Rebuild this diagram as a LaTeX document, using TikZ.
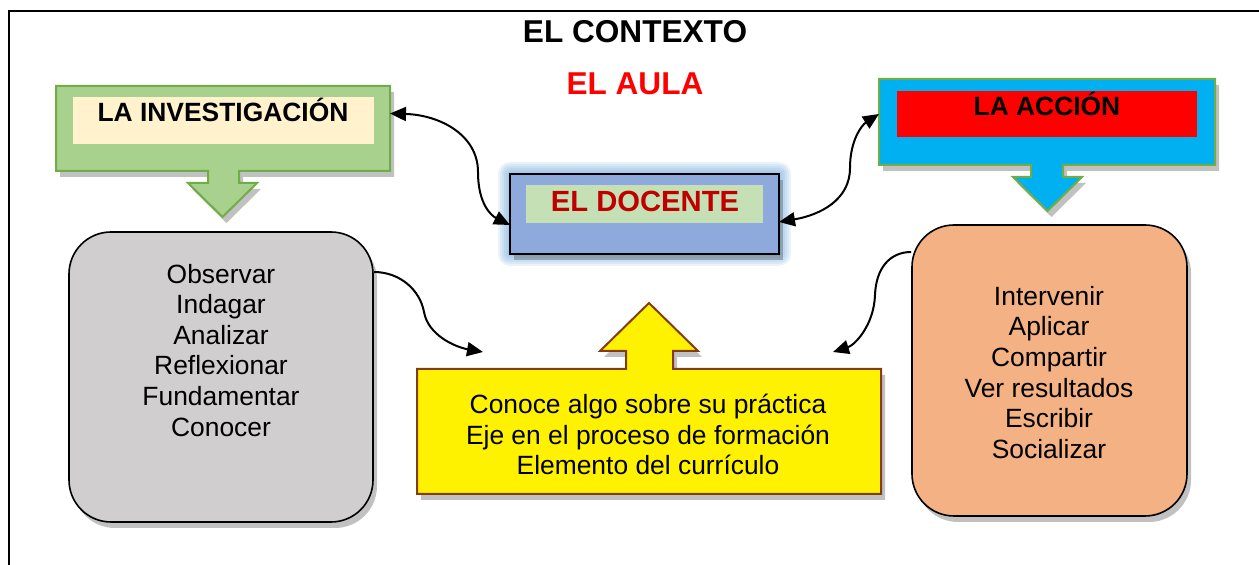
\documentclass[tikz,border=0pt]{standalone}
\usepackage{fontspec}
\setmainfont{Liberation Sans}
\usetikzlibrary{arrows.meta,shadows}

\begin{document}
\begin{tikzpicture}[x=0.5pt,y=-0.5pt,>={Triangle[length=8pt,width=7pt]}]
  % Colors
  \definecolor{invcolor}{HTML}{A9D18E}
  \definecolor{invborder}{HTML}{70AD47}
  \definecolor{creamcolor}{HTML}{FFF2CC}
  \definecolor{acccolor}{HTML}{00B0F0}
  \definecolor{doccolor}{HTML}{8EA9DB}
  \definecolor{docgreen}{HTML}{C5E0B4}
  \definecolor{docred}{HTML}{C00000}
  \definecolor{glowcolor}{HTML}{5B9BD5}
  \definecolor{obscolor}{HTML}{D0CECE}
  \definecolor{actcolor}{HTML}{F4B183}
  \definecolor{yelborder}{HTML}{843C0C}

  % Styles
  \tikzstyle{frame}=[line width=1pt]
  \tikzstyle{box shadow}=[drop shadow={shadow xshift=2pt,shadow yshift=-3pt,opacity=.35,fill=black!70}]
  \tikzstyle{anchor box}=[inner sep=0pt,outer sep=0pt]
  \tikzstyle{title text}=[font=\bfseries\fontsize{15.8}{18}\selectfont,anchor=base]
  \tikzstyle{head text}=[font=\bfseries\fontsize{13.2}{15}\selectfont,anchor=base]
  \tikzstyle{list text}=[font=\fontsize{13.2}{15.3}\selectfont,align=center,anchor=north,inner sep=0pt]
  \tikzstyle{round box}=[box shadow,draw,line width=0.8pt,rounded corners=21pt,inner sep=0pt]
  \tikzstyle{connector}=[line width=1pt]

  \useasboundingbox (0,0) rectangle (1259,565);

  % Frame and titles
  \draw[frame] (9,565) -- (9,11) -- (1259,11);
  \node[title text] (contexto) at (635,43) {EL CONTEXTO};
  \node[title text,red] (aula) at (635,95) {EL AULA};

  % La investigacion
  \node[anchor box,minimum width=167pt,minimum height=42.5pt] (inv) at (223,128.5) {};
  \filldraw[box shadow,fill=invcolor,draw=invborder,line width=1pt]
    (inv.north west) -- (inv.north east) -- (inv.south east) -- (239,171) -- (239,183)
    -- (257,183) -- (222.5,217) -- (188,183) -- (208,183) -- (208,171) -- (inv.south west) -- cycle;
  \node[anchor box,fill=creamcolor,minimum width=150.5pt,minimum height=23.5pt] (invlabel) at (223.5,120.5) {};
  \node[head text] (invtext) at (223,121.5) {LA INVESTIGACIÓN};

  % La accion
  \node[anchor box,minimum width=168pt,minimum height=43pt] (acc) at (1047,122) {};
  \filldraw[box shadow,fill=acccolor,draw=invborder,line width=1pt]
    (acc.north west) -- (acc.north east) -- (acc.south east) -- (1063,165) -- (1063,177)
    -- (1082,177) -- (1047.5,211) -- (1013,177) -- (1031,177) -- (1031,165) -- (acc.south west) -- cycle;
  \node[anchor box,fill=red,minimum width=150pt,minimum height=23pt] (acclabel) at (1047,114) {};
  \node[head text] (acctext) at (1047,116) {LA ACCIÓN};

  % El docente
  \node[anchor box,minimum width=134.5pt,minimum height=40pt] (doc) at (644.5,214) {};
  \foreach \g in {1,...,6}
    \fill[glowcolor,opacity=.12,rounded corners=\g*1pt] ([shift={(-\g*1pt,\g*1pt)}]doc.north west) rectangle ([shift={(\g*1pt,-\g*1pt)}]doc.south east);
  \filldraw[box shadow,fill=doccolor,draw=black,line width=1pt] (doc.north west) rectangle (doc.south east);
  \node[anchor box,fill=docgreen,minimum width=118.5pt,minimum height=19pt] (doclabel) at (644.5,204) {};
  \node[head text,font=\bfseries\fontsize{14.6}{17}\selectfont,text=docred] (doctext) at (645,211.5) {EL DOCENTE};

  % Lists
  \node[round box,fill=obscolor,minimum width=152pt,minimum height=145pt] (obs) at (221,377) {};
  \node[list text] (obstext) at (221,263.5) {Observar\\Indagar\\Analizar\\Reflexionar\\Fundamentar\\Conocer};

  \node[round box,fill=actcolor,minimum width=137.5pt,minimum height=145.5pt] (act) at (1049.5,370.5) {};
  \node[list text] (acttext) at (1049,285.7) {Intervenir\\Aplicar\\Compartir\\Ver resultados\\Escribir\\Socializar};

  % Yellow box
  \node[anchor box,minimum width=232pt,minimum height=62.5pt] (yel) at (649,431.5) {};
  \filldraw[box shadow,fill=yellow,draw=yelborder,line width=1pt]
    (yel.south west) -- (yel.north west) -- (626,369) -- (626,351) -- (600,351) -- (649,303)
    -- (698,351) -- (673,351) -- (673,369) -- (yel.north east) -- (yel.south east) -- cycle;
  \node[list text] (yeltext) at (648,393.7) {Conoce algo sobre su práctica\\Eje en el proceso de formación\\Elemento del currículo};

  % Connectors
  \draw[connector,<->] ([yshift=7.5pt]inv.east) .. controls (440,115) and (478,135) .. (478,172)
    .. controls (478,205) and (492,216) .. ([yshift=-5.5pt]doc.west);
  \draw[connector,<->] ([yshift=-4pt]doc.east) .. controls (820,215) and (850,200) .. (850,168)
    .. controls (850,140) and (862,125) .. ([yshift=4pt]acc.west);

  \coordinate (obsend) at (483,352);
  \draw[connector,->] ([yshift=52.5pt]obs.east) .. controls (400,272) and (420,290) .. (424,312)
    .. controls (428,335) and (455,347) .. (obsend);
  \coordinate (actend) at (833,352);
  \draw[connector,->] ([yshift=59.25pt]act.west) .. controls (890,252) and (876,268) .. (875,295)
    .. controls (874,325) and (855,345) .. (actend);
\end{tikzpicture}
\end{document}
